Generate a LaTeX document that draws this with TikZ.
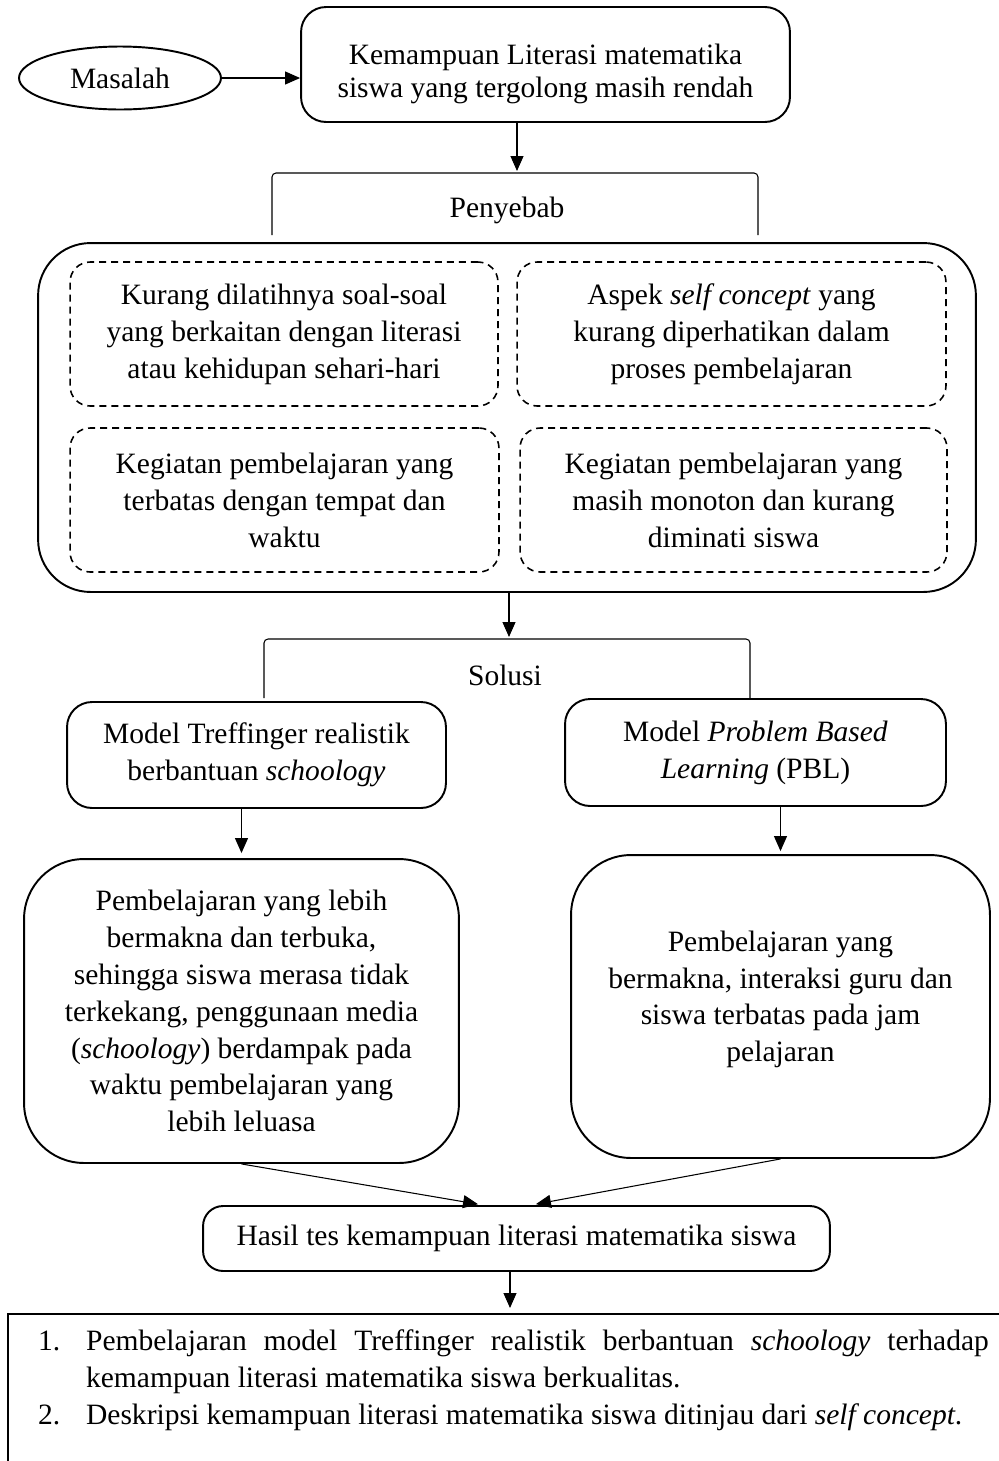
\documentclass[tikz,border=0pt]{standalone}
\usepackage{fontspec}
\setmainfont{Liberation Serif}
\usepackage{tikz}
\usetikzlibrary{positioning}
\usetikzlibrary{shapes.geometric}
\usetikzlibrary{arrows.meta}
\usetikzlibrary{calc}
\tikzset{
    kotak/.style={draw,line width=1.1pt,rounded corners=0.5cm,align=center,inner sep=0pt},
    putus/.style={draw,line width=0.9pt,dash pattern=on 0.14cm off 0.1cm,rounded corners=0.4cm,align=center,inner sep=0pt},
    panah/.style={-{Triangle[length=0.3cm,width=0.26cm]},line width=0.6pt},
    kurung/.style={line width=0.6pt,rounded corners=0.08cm}
}

\begin{document}
\begin{tikzpicture}[x=0.02cm,y=-0.02cm,font=\fontsize{16.8}{21}\selectfont]
            \useasboundingbox (0,0) rectangle (998,1461);

            \node (masalah) [draw,ellipse,line width=1.1pt,minimum width=4.04cm,minimum height=1.26cm,inner sep=0pt] at (120,78) {Masalah};
            \node (rendah) [kotak,minimum width=9.78cm,minimum height=2.3cm,font=\fontsize{16.8}{19}\selectfont] at (545.5,64.5)
                {\rule{0pt}{0.78cm}Kemampuan Literasi matematika\\siswa yang tergolong masih rendah};

            \node (penyebab) at (507,210) {Penyebab};
            \coordinate (atas1) at (517,171);
            \draw[kurung] (272,235) -- (272,173) -- (758,173) -- (758,235);

            \node (sebab) [kotak,rounded corners=1.05cm,minimum width=18.76cm,minimum height=6.98cm] at (507,417.5) {};
            \node (s1) [putus,minimum width=8.56cm,minimum height=2.88cm] at (284,334)
                {Kurang dilatihnya soal-soal\\yang berkaitan dengan literasi\\atau kehidupan sehari-hari};
            \node (s2) [putus,minimum width=8.58cm,minimum height=2.88cm] at (731.5,334)
                {Aspek \textit{self concept} yang\\kurang diperhatikan dalam\\proses pembelajaran};
            \node (s3) [putus,minimum width=8.58cm,minimum height=2.88cm] at (284.5,500)
                {Kegiatan pembelajaran yang\\terbatas dengan tempat dan\\waktu};
            \node (s4) [putus,minimum width=8.54cm,minimum height=2.88cm] at (733.5,500)
                {Kegiatan pembelajaran yang\\masih monoton dan kurang\\diminati siswa};

            \node (solusi) at (505,675) {Solusi};
            \coordinate (atas2) at (509,637);
            \draw[kurung] (264,698) -- (264,639) -- (750,639) -- (750,698);

            \node (treff) [kotak,minimum width=7.58cm,minimum height=2.12cm] at (256.5,755)
                {Model Treffinger realistik\\berbantuan \textit{schoology}};
            \node (pbl) [kotak,minimum width=7.62cm,minimum height=2.14cm] at (755.5,752.5)
                {Model \textit{Problem Based}\\\textit{Learning} (PBL)};

            \node (dampak1) [kotak,rounded corners=1.2cm,minimum width=8.7cm,minimum height=6.08cm] at (241.5,1011)
                {Pembelajaran yang lebih\\bermakna dan terbuka,\\sehingga siswa merasa tidak\\terkekang, penggunaan media\\(\textit{schoology}) berdampak pada\\waktu pembelajaran yang\\lebih leluasa};
            \node (dampak2) [kotak,rounded corners=1.2cm,minimum width=8.38cm,minimum height=6.06cm] at (780.5,1006.5)
                {Pembelajaran yang\\bermakna, interaksi guru dan\\siswa terbatas pada jam\\pelajaran\rule[-0.41cm]{0pt}{0.41cm}};

            \node (hasil) [kotak,rounded corners=0.4cm,minimum width=12.54cm,minimum height=1.3cm] at (516.5,1238.5)
                {Hasil tes kemampuan literasi matematika siswa};

            \node (simpulan) [draw,line width=1.3pt,anchor=north west,text width=19.02cm,align=justify,inner xsep=0.6cm,inner ysep=0.32cm,text depth=4cm] at (7,1313)
                {\hyphenpenalty=10000\exhyphenpenalty=10000
                \hangindent=0.96cm\hangafter=1\noindent\makebox[0.96cm][l]{1.}Pembelajaran model Treffinger realistik berbantuan \textit{schoology} terhadap kemampuan literasi matematika siswa berkualitas.\par
                \hangindent=0.96cm\hangafter=1\noindent\makebox[0.96cm][l]{2.}Deskripsi kemampuan literasi matematika siswa ditinjau dari \textit{self concept}.\par};

            \draw[panah] (masalah.east) -- (masalah.east -| rendah.west);
            \draw[panah] (rendah.south -| atas1) -- (atas1);
            \draw[panah] (sebab.south -| atas2) -- (atas2);
            \draw[panah,shorten >=0.1cm] (treff.south -| dampak1.north) -- (dampak1.north);
            \draw[panah,shorten >=0.06cm] (pbl.south -| dampak2.north) -- (dampak2.north);
            \draw[panah,shorten >=0.1cm] (dampak1.south) -- ([xshift=-0.67cm]hasil.north);
            \draw[panah,shorten >=0.1cm] (dampak2.south) -- ([xshift=0.29cm]hasil.north);
            \draw[panah,shorten >=0.1cm] ([xshift=-0.13cm]hasil.south) -- ([xshift=-0.13cm]hasil.south |- simpulan.north);
        \end{tikzpicture}
\end{document}
